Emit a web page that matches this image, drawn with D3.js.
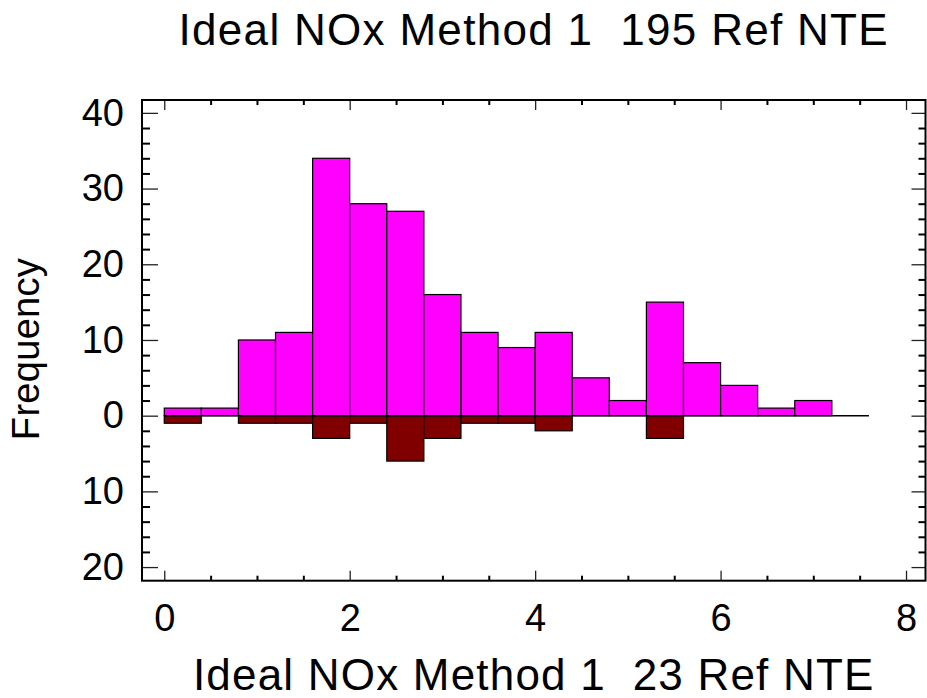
<!DOCTYPE html>
<html>
<head>
<meta charset="utf-8">
<script src="https://cdn.jsdelivr.net/npm/d3@7"></script>
<style>
  html, body { margin: 0; padding: 0; background: #fff; }
  svg { display: block; }
  text { font-family: "Liberation Sans", Arial, sans-serif; fill: #000; }
</style>
</head>
<body>
<svg id="chart" width="927" height="698"></svg>
<script>
// ---- data ----
const binEdges = [0, 0.4, 0.8, 1.2, 1.6, 2.0, 2.4, 2.8, 3.2, 3.6, 4.0, 4.4, 4.8, 5.2, 5.6, 6.0, 6.4, 6.8, 7.2, 7.6];
const upperCounts = [1, 1, 10, 11, 34, 28, 27, 16, 11, 9, 11, 5, 2, 15, 7, 4, 1, 2, 0];   // 195 Ref NTE
const lowerCounts = [1, 0, 1, 1, 3, 1, 6, 3, 1, 1, 2, 0, 0, 3, 0, 0, 0, 0, 0];           // 23 Ref NTE
const xMajorTicks = [0, 2, 4, 6, 8];
const xMinorTicks = [0.5, 1, 1.5, 2.5, 3, 3.5, 4.5, 5, 5.5, 6.5, 7, 7.5];
const yMajorTicks = [-20, -10, 0, 10, 20, 30, 40];
const yMinorTicks = [-18, -16, -14, -12, -8, -6, -4, -2, 2, 4, 6, 8, 12, 14, 16, 18, 22, 24, 26, 28, 32, 34, 36, 38];
const titleText = "Ideal NOx Method 1\u00a0\u00a0195 Ref NTE";
const xTitleText = "Ideal NOx Method 1\u00a0\u00a023 Ref NTE";
const yTitleText = "Frequency";

// ---- layout ----
const L = 142, R = 925.5, T = 100, B = 580.7;
const FONT = '"Liberation Sans", Arial, sans-serif';
const svg = d3.select("#chart");

const x = d3.scaleLinear().domain([-0.240, 8.21]).range([L, R]);
const y = d3.scaleLinear().domain([-21.8, 41.7]).range([B, T]);

const bins = binEdges.slice(0, -1).map((e, i) => ({
  x0: e, x1: binEdges[i + 1], up: upperCounts[i], down: lowerCounts[i]
}));

// lower (dark red) bars
svg.append("g").selectAll("rect")
  .data(bins.filter(d => d.down > 0))
  .join("rect")
  .attr("x", d => x(d.x0))
  .attr("width", d => x(d.x1) - x(d.x0))
  .attr("y", y(0))
  .attr("height", d => y(-d.down) - y(0))
  .attr("fill", "#800000")
  .attr("stroke", "#000")
  .attr("stroke-width", 1.2);

// upper (magenta) bars
svg.append("g").selectAll("rect")
  .data(bins.filter(d => d.up > 0))
  .join("rect")
  .attr("x", d => x(d.x0))
  .attr("width", d => x(d.x1) - x(d.x0))
  .attr("y", d => y(d.up))
  .attr("height", d => y(0) - y(d.up))
  .attr("fill", "#ff00ff")
  .attr("stroke", "#000")
  .attr("stroke-width", 1.2);

// zero line across the bin range
svg.append("line")
  .attr("x1", x(binEdges[0])).attr("x2", x(binEdges[binEdges.length - 1]))
  .attr("y1", y(0)).attr("y2", y(0))
  .attr("stroke", "#000").attr("stroke-width", 1.5);

// ---- axes (ticks inward) ----
function styleAxis(g) {
  g.select(".domain").remove();
  g.selectAll(".tick line").attr("stroke", "#000");
}
function major(g) { g.selectAll(".tick line").attr("stroke-width", 1.3).attr("stroke", "#222"); }
function minor(g) { g.selectAll(".tick line").attr("stroke-width", 2); }
function labels(g) { g.selectAll("text").attr("font-size", 38).attr("font-family", FONT); }

// bottom
svg.append("g").attr("transform", `translate(0,${B})`)
  .call(d3.axisBottom(x).tickValues(xMajorTicks).tickSize(-10).tickPadding(23.5).tickFormat(d3.format("d")))
  .call(styleAxis).call(major).call(labels);
svg.append("g").attr("transform", `translate(0,${B})`)
  .call(d3.axisBottom(x).tickValues(xMinorTicks).tickSize(-5).tickFormat(""))
  .call(styleAxis).call(minor);
// top
svg.append("g").attr("transform", `translate(0,${T})`)
  .call(d3.axisTop(x).tickValues(xMajorTicks).tickSize(-10).tickFormat(""))
  .call(styleAxis).call(major);
svg.append("g").attr("transform", `translate(0,${T})`)
  .call(d3.axisTop(x).tickValues(xMinorTicks).tickSize(-5).tickFormat(""))
  .call(styleAxis).call(minor);
// left
svg.append("g").attr("transform", `translate(${L},0)`)
  .call(d3.axisLeft(y).tickValues(yMajorTicks).tickSize(-16).tickPadding(18).tickFormat(d => Math.abs(d)))
  .call(styleAxis).call(major).call(labels);
svg.append("g").attr("transform", `translate(${L},0)`)
  .call(d3.axisLeft(y).tickValues(yMinorTicks).tickSize(-8).tickFormat(""))
  .call(styleAxis).call(minor);
// right
svg.append("g").attr("transform", `translate(${R},0)`)
  .call(d3.axisRight(y).tickValues(yMajorTicks).tickSize(-14).tickFormat(""))
  .call(styleAxis).call(major);
svg.append("g").attr("transform", `translate(${R},0)`)
  .call(d3.axisRight(y).tickValues(yMinorTicks).tickSize(-7).tickFormat(""))
  .call(styleAxis).call(minor);

// frame
svg.append("rect")
  .attr("x", L).attr("y", T).attr("width", R - L).attr("height", B - T)
  .attr("fill", "none").attr("stroke", "#000").attr("stroke-width", 2);

// ---- titles ----
svg.append("text")
  .attr("x", (L + R) / 2).attr("y", 45)
  .attr("text-anchor", "middle").attr("font-size", 44)
  .attr("letter-spacing", 1.3)
  .text(titleText);

svg.append("text")
  .attr("x", (L + R) / 2).attr("y", 690)
  .attr("text-anchor", "middle").attr("font-size", 44)
  .attr("letter-spacing", 1.2)
  .text(xTitleText);

svg.append("text")
  .attr("transform", `translate(39,349) rotate(-90)`)
  .attr("text-anchor", "middle").attr("font-size", 38)
  .attr("letter-spacing", 0.3)
  .text(yTitleText);
</script>
</body>
</html>
